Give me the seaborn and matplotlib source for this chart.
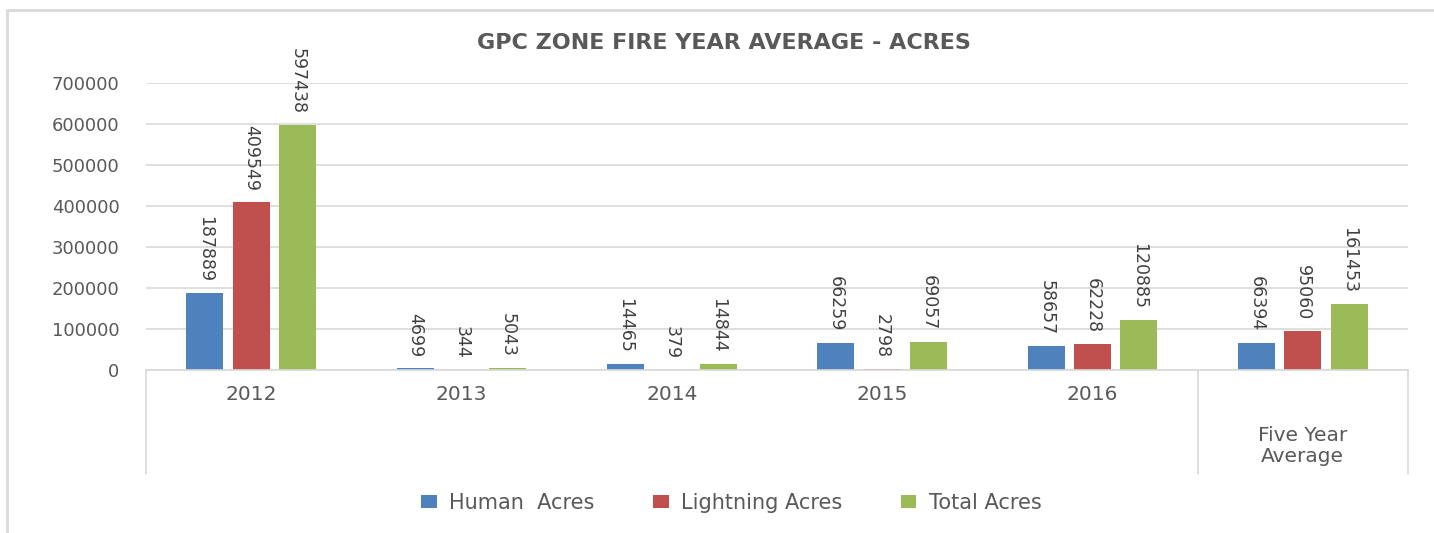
import pandas as pd
import seaborn as sns
import matplotlib.pyplot as plt
from matplotlib.lines import Line2D
import matplotlib.transforms as mtransforms

# Data
years = ['2012', '2013', '2014', '2015', '2016', 'Five Year Average']
human = [187889, 4699, 14465, 66259, 58657, 66394]
lightning = [409549, 344, 379, 2798, 62228, 95060]
total = [597438, 5043, 14844, 69057, 120885, 161453]
series = ['Human  Acres', 'Lightning Acres', 'Total Acres']
colors = ['#4F81BD', '#C0504D', '#9BBB59']

df = pd.DataFrame({'year': years, series[0]: human, series[1]: lightning, series[2]: total})
df_long = pd.melt(df, id_vars=['year'], value_vars=series, var_name='series', value_name='acres')

sns.set_style('white')
plt.rcParams['font.family'] = ['DejaVu Sans']
txt = '#595959'

fig = plt.figure(figsize=(14.34, 5.33), dpi=100)
ax = fig.add_axes([146 / 1434, 163 / 533, 1262 / 1434, 287 / 533])

sns.barplot(data=df_long, x='year', y='acres', hue='series', palette=colors,
            width=0.66, gap=0.2, ax=ax, legend=True, saturation=1, linewidth=0)

ax.set_ylim(0, 700000)
ax.set_xlim(-0.5, 5.5)
ax.set_yticks(range(0, 700001, 100000))
ax.set_yticklabels([str(v) for v in range(0, 700001, 100000)])
ax.set_xticks(range(len(years)))
ax.set_xticklabels(years[:5] + ['\n\nFive Year\nAverage'])
ax.yaxis.grid(True, color='#d9d9d9', linewidth=1.2)
ax.set_axisbelow(True)
for s in ['top', 'right', 'left']:
    ax.spines[s].set_visible(False)
ax.spines['bottom'].set_color('#d9d9d9')
ax.spines['bottom'].set_linewidth(1.2)
ax.set_xlabel('')
ax.set_ylabel('')
ax.tick_params(axis='y', length=0, pad=19, labelsize=13, labelcolor=txt)
ax.tick_params(axis='x', length=0, pad=11, labelsize=14.5, labelcolor=txt)
for t in ax.get_xticklabels():
    t.set_linespacing(1.1)

# value labels
for cont in ax.containers:
    ax.bar_label(cont, fmt='{:.0f}', rotation=-90, padding=8, fontsize=12.5, color='#404040')

# category separators
trans = mtransforms.blended_transform_factory(ax.transData, ax.transAxes)
for xv in [-0.5, 4.5, 5.5]:
    ax.add_line(Line2D([xv, xv], [0, -0.362], transform=trans, color='#d9d9d9',
                       linewidth=1.2, clip_on=False))

# legend at bottom
handles, labels = ax.get_legend_handles_labels()
ax.get_legend().remove()
fig.legend(handles, labels, loc='center', bbox_to_anchor=(0.51, 0.056), ncol=3,
           frameon=False, fontsize=15, labelcolor=txt, handlelength=0.75,
           handleheight=0.6, handletextpad=0.6, columnspacing=2.8)

fig.text(0.505, 0.92, 'GPC ZONE FIRE YEAR AVERAGE - ACRES', ha='center', va='center',
         fontsize=16, fontweight='bold', color=txt)

# outer chart border (top and left)
fig.add_artist(Line2D([7 / 1434, 1], [1 - 10 / 533, 1 - 10 / 533], transform=fig.transFigure,
                      color='#d9d9d9', linewidth=2))
fig.add_artist(Line2D([7 / 1434, 7 / 1434], [0, 1 - 10 / 533], transform=fig.transFigure,
                      color='#d9d9d9', linewidth=2))

fig.savefig('out.png', dpi=100)
